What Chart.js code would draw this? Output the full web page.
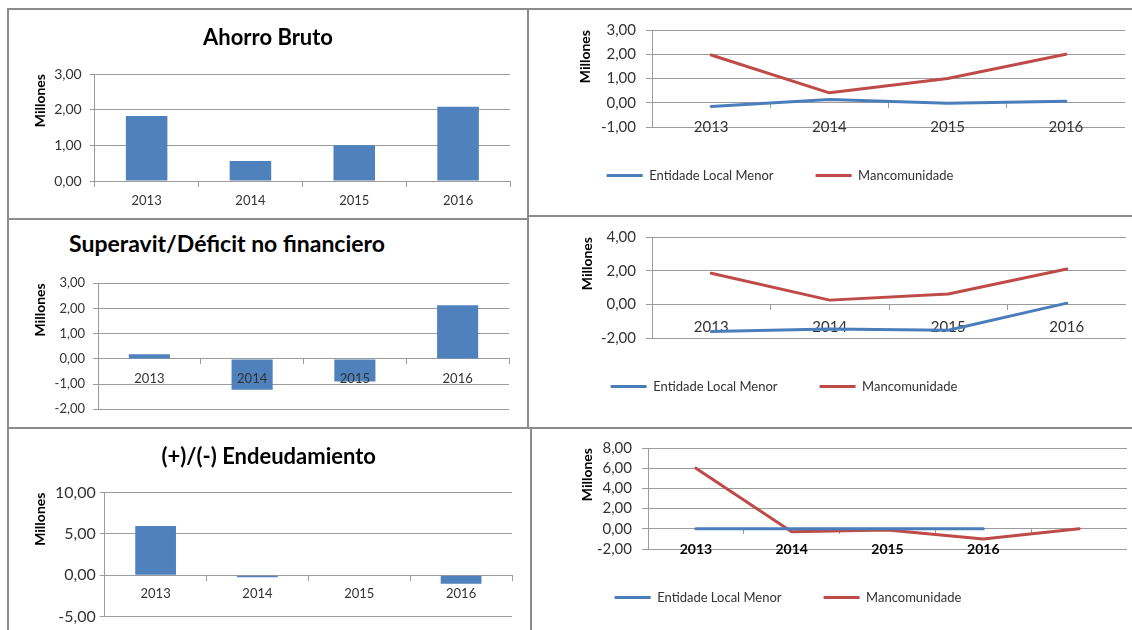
<!DOCTYPE html>
<html>
<head>
<meta charset="utf-8">
<script src="https://cdn.jsdelivr.net/npm/chart.js@4.4.1/dist/chart.umd.min.js"></script>
<style>
  html, body { margin: 0; padding: 0; background: #fff; }
  body { position: relative; width: 1132px; height: 630px; overflow: hidden; font-family: Lato, "Open Sans", sans-serif; }
  .frame { position: absolute; box-sizing: border-box; border: 0 solid #8c8c8c; }
  .ptitle { position: absolute; font-weight: bold; font-size: 23px; line-height: 27.6px; color: #000; white-space: nowrap; }
  canvas { position: absolute; }
</style>
</head>
<body>
<!-- panel frames -->
<div class="frame" style="left:7px;top:8px;width:522px;height:212px;border-width:2px"></div>
<div class="frame" style="left:7px;top:218px;width:522px;height:211px;border-width:2px"></div>
<div class="frame" style="left:7px;top:427px;width:530px;height:210px;border-width:2px 0 2px 2px"></div>
<div class="frame" style="left:527px;top:8px;width:610px;height:209px;border-width:2px 0 2px 0"></div>
<div class="frame" style="left:527px;top:215px;width:610px;height:214px;border-width:0 0 2px 0"></div>
<div class="frame" style="left:530px;top:427px;width:610px;height:210px;border-width:2px 0 0 2px"></div>

<!-- this chart title sits left of centre in the original, so it lives outside the canvas -->
<div class="ptitle" style="left:69px;top:230px">Superavit/Déficit no financiero</div>

<canvas id="cA" width="516" height="206" style="left:10px;top:11px"></canvas>
<canvas id="cC" width="516" height="206" style="left:10px;top:220px"></canvas>
<canvas id="cE" width="517" height="201" style="left:10px;top:429px"></canvas>
<canvas id="cB" width="690" height="181" style="left:435px;top:11px"></canvas>
<canvas id="cD" width="684" height="185" style="left:442px;top:218px"></canvas>
<canvas id="cF" width="678" height="185" style="left:449px;top:429px"></canvas>

<script>
// values in millions
const years = ["2013", "2014", "2015", "2016"];
const yearsLong = ["2013", "2014", "2015", "2016", ""];
const seriesNames = ["Entidade Local Menor", "Mancomunidade"];

const ahorroBruto = [1.82, 0.56, 1.0, 2.08];
const ahorroElm = [-0.15, 0.13, -0.02, 0.06];
const ahorroManc = [1.97, 0.41, 1.0, 2.0];

const superavit = [0.18, -1.22, -0.9, 2.13];
const superavitElm = [-1.62, -1.47, -1.54, 0.07];
const superavitManc = [1.85, 0.25, 0.61, 2.1];

const endeudamiento = [5.95, -0.25, 0, -1.05];
const endeudElm = [0, 0, 0, 0, null];
const endeudManc = [6.0, -0.3, -0.12, -1.0, 0];

Chart.defaults.font.family = "Lato, 'Open Sans', sans-serif";
Chart.defaults.color = "#333";

const GRID = "#9c9c9c", INK = "#333", BAR = "#4f81bd", BLUE = "#4a7ebb", RED = "#be4b48";
const fmt = (v) => v.toFixed(2).replace(".", ",");

function yAxis(o) {
  return {
    min: o.min, max: o.max,
    ticks: { stepSize: o.step, callback: fmt, color: INK, padding: o.tickPad, font: { size: o.yFont } },
    grid: { color: GRID, tickLength: o.tl || 5 },
    border: { color: GRID },
    title: {
      display: true, text: "Millones", align: "end", color: "#000",
      font: { size: 14, weight: "bold" }, padding: { top: o.millPad, bottom: 0 },
    },
    afterFit: (s) => { s.width = o.width; },
  };
}

function xAxis(o) {
  return {
    position: { y: 0 },
    offset: true,
    ticks: {
      // bar charts print the year on top of the bars, like the original
      z: o.xz || 0,
      color: o.xColor || INK, padding: o.xPad, autoSkip: false, maxRotation: 0,
      font: { size: o.xFont, weight: o.xWeight || "normal" },
    },
    grid: { drawOnChartArea: false, drawTicks: true, tickLength: 5, color: GRID, offset: true },
    border: { color: GRID },
  };
}

function barChart(id, o) {
  return new Chart(document.getElementById(id), {
    type: "bar",
    data: { labels: years, datasets: [{ data: o.data, backgroundColor: BAR, categoryPercentage: 1, barPercentage: 0.4 }] },
    options: {
      responsive: false, animation: false, events: [],
      layout: { padding: o.pad },
      plugins: {
        legend: { display: false }, tooltip: { enabled: false },
        title: {
          display: !!o.title, text: o.title, color: "#000",
          font: { size: 22, weight: "bold" }, padding: o.titlePad,
        },
      },
      scales: { x: xAxis({ ...o, xz: 1 }), y: yAxis(o) },
    },
  });
}

function lineChart(id, o) {
  const ds = (label, data, color) => ({
    label, data, borderColor: color, backgroundColor: color, borderWidth: 3,
    pointRadius: 0, tension: 0, borderJoinStyle: "round", borderCapStyle: "round",
  });
  return new Chart(document.getElementById(id), {
    type: "line",
    data: { labels: o.labels, datasets: [ds(seriesNames[0], o.elm, BLUE), ds(seriesNames[1], o.manc, RED)] },
    options: {
      responsive: false, animation: false, events: [],
      layout: { padding: { left: 0, right: 0, top: o.top, bottom: 0 } },
      plugins: {
        tooltip: { enabled: false },
        legend: {
          position: "bottom",
          labels: {
            boxWidth: 36, boxHeight: 3, padding: 42, color: INK, font: { size: 13 },
            generateLabels: (c) => Chart.defaults.plugins.legend.labels.generateLabels(c)
              .map((l) => ({ ...l, lineWidth: 0 })),
          },
        },
      },
      scales: { x: xAxis(o), y: yAxis(o) },
    },
  });
}

barChart("cA", {
  data: ahorroBruto, title: "Ahorro Bruto",
  pad: { left: 16, right: 16, top: 0, bottom: 36 }, titlePad: { top: 13.5, bottom: 23.1 },
  min: 0, max: 3, step: 1, width: 68.7, tickPad: 8, yFont: 14, millPad: 5.6,
  xFont: 13, xPad: 7,
});

barChart("cC", {
  data: superavit, title: "",
  pad: { left: 0, right: 17, top: 63.3, bottom: 16.7 },
  min: -2, max: 3, step: 1, width: 88, tickPad: 8, yFont: 13, millPad: 22.1,
  xFont: 13, xPad: 7.2,
});

barChart("cE", {
  data: endeudamiento, title: "(+)/(-) Endeudamiento",
  pad: { left: 15.4, right: 15, top: 0, bottom: 11.4 }, titlePad: { top: 14.8, bottom: 22.4 },
  min: -5, max: 10, step: 5, width: 79.3, tickPad: 4, yFont: 16, millPad: 6.7,
  xFont: 13, xPad: 5.8,
});

lineChart("cB", {
  labels: years, elm: ahorroElm, manc: ahorroManc, top: 10,
  min: -1, max: 3, step: 1, width: 217, tl: 6, tickPad: 10, yFont: 15, millPad: 142,
  xFont: 15, xPad: 10,
});

lineChart("cD", {
  labels: years, elm: superavitElm, manc: superavitManc, top: 9.7,
  min: -2, max: 4, step: 2, width: 210, tl: 6, tickPad: 10, yFont: 15, millPad: 136.6,
  xFont: 15, xPad: 8.7,
});

lineChart("cF", {
  labels: yearsLong, elm: endeudElm, manc: endeudManc, top: 10,
  min: -2, max: 8, step: 2, width: 199, tl: 6, tickPad: 10, yFont: 15, millPad: 130,
  xFont: 14, xWeight: "bold", xColor: "#000", xPad: 7.6,
});
</script>
</body>
</html>
